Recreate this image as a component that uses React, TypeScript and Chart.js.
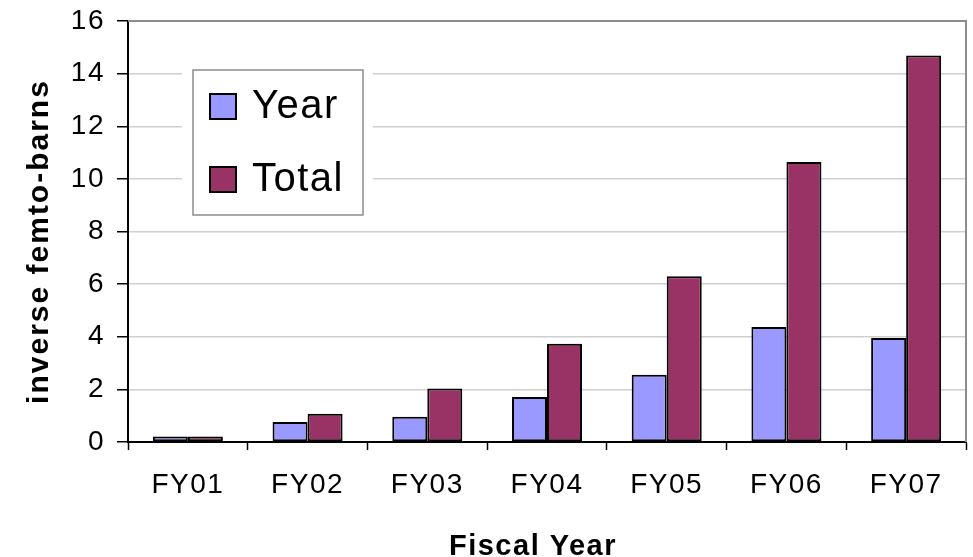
import React, { useEffect, useRef } from "react";
import { Chart, registerables } from "chart.js";

Chart.register(...registerables);

const categories = ["FY01", "FY02", "FY03", "FY04", "FY05", "FY06", "FY07"];
const yearValues = [0.21, 0.76, 0.96, 1.71, 2.56, 4.37, 3.95];
const totalValues = [0.21, 1.07, 2.03, 3.73, 6.3, 10.64, 14.69];
const yMin = 0;
const yMax = 16;
const yStep = 2;
const xTitle = "Fiscal Year";
const yTitle = "inverse femto-barns";

const FONT = "'Liberation Sans', Arial, sans-serif";
const SPACING = "1.5px";

// Excel-style plot frame, axis titles and an inset legend box.
const decorPlugin = {
  id: "decor",
  beforeLayout(chart: any) {
    chart.ctx.letterSpacing = SPACING;
  },
  beforeDraw(chart: any) {
    const ctx = chart.ctx;
    ctx.letterSpacing = SPACING;
    ctx.save();
    ctx.fillStyle = "#ffffff";
    ctx.fillRect(0, 0, chart.width, chart.height);
    ctx.restore();
  },
  afterDraw(chart: any) {
    const ctx = chart.ctx;
    const a = chart.chartArea;
    ctx.save();
    ctx.letterSpacing = SPACING;

    // top and right edges of the plot area
    ctx.strokeStyle = "#8c8c8c";
    ctx.lineWidth = 2;
    ctx.beginPath();
    ctx.moveTo(a.left, a.top);
    ctx.lineTo(a.right, a.top);
    ctx.lineTo(a.right, a.bottom);
    ctx.stroke();

    // legend box
    const lx = a.left + 65;
    const ly = a.top + 49;
    const lw = 170;
    const lh = 145;
    ctx.fillStyle = "#ffffff";
    ctx.fillRect(lx - 11, ly - 6, lw + 21, lh + 12);
    ctx.strokeStyle = "#8c8c8c";
    ctx.lineWidth = 1.5;
    ctx.strokeRect(lx, ly, lw, lh);

    ctx.font = `40px ${FONT}`;
    ctx.textBaseline = "middle";
    ctx.textAlign = "left";
    const rows = [ly + 36, ly + 109];
    chart.data.datasets.forEach((ds: any, i: number) => {
      const cy = rows[i];
      ctx.fillStyle = ds.backgroundColor;
      ctx.fillRect(lx + 17, cy - 12, 26, 25);
      ctx.strokeStyle = "#000000";
      ctx.lineWidth = 2;
      ctx.strokeRect(lx + 17, cy - 12, 26, 25);
      ctx.fillStyle = "#000000";
      ctx.fillText(ds.label, lx + 59, cy + 1);
    });

    // axis titles
    ctx.font = `bold 29px ${FONT}`;
    ctx.fillStyle = "#000000";
    ctx.textAlign = "center";
    ctx.textBaseline = "alphabetic";
    ctx.fillText(xTitle, (a.left + a.right) / 2 - 14, chart.height - 2);

    ctx.letterSpacing = "2px";
    ctx.font = `bold 30px ${FONT}`;
    ctx.translate(48, (a.top + a.bottom) / 2 + 10);
    ctx.rotate(-Math.PI / 2);
    ctx.fillText(yTitle, 0, 0);
    ctx.restore();
  },
};

export default function App() {
  const canvasRef = useRef<HTMLCanvasElement | null>(null);

  useEffect(() => {
    const canvas = canvasRef.current;
    if (!canvas) return;
    const chart = new Chart(canvas, {
      type: "bar",
      data: {
        labels: categories,
        datasets: [
          {
            label: "Year",
            data: yearValues,
            backgroundColor: "#9999ff",
            borderColor: "#000000",
            borderWidth: 2,
            borderSkipped: false,
            categoryPercentage: 0.585,
            barPercentage: 1.0,
          },
          {
            label: "Total",
            data: totalValues,
            backgroundColor: "#993366",
            borderColor: "#000000",
            borderWidth: 2,
            borderSkipped: false,
            categoryPercentage: 0.585,
            barPercentage: 1.0,
          },
        ],
      },
      options: {
        animation: false,
        responsive: false,
        maintainAspectRatio: false,
        devicePixelRatio: 1,
        layout: { padding: { left: 0, top: 21, right: 7, bottom: 0 } },
        plugins: {
          legend: { display: false },
          tooltip: { enabled: false },
          title: { display: false },
        },
        scales: {
          x: {
            type: "category",
            offset: true,
            grid: {
              display: true,
              offset: true,
              drawOnChartArea: false,
              drawTicks: true,
              tickLength: 8,
              tickColor: "#000000",
              tickWidth: 1.5,
            },
            border: { display: true, color: "#000000", width: 2 },
            ticks: {
              color: "#000000",
              font: { family: FONT, size: 28 },
              padding: 18,
              maxRotation: 0,
              autoSkip: false,
            },
            afterFit(scale: any) {
              scale.height = 115;
              scale.paddingLeft = 0;
              scale.paddingRight = 0;
            },
          },
          y: {
            min: yMin,
            max: yMax,
            grid: {
              color: "#cfcfcf",
              lineWidth: 1.5,
              tickLength: 11,
              tickColor: "#000000",
              tickWidth: 1.5,
            },
            border: { display: true, color: "#000000", width: 2 },
            ticks: {
              stepSize: yStep,
              color: "#000000",
              font: { family: FONT, size: 28 },
              padding: 12,
            },
            afterFit(scale: any) {
              scale.width = 128;
              scale.paddingTop = 0;
              scale.paddingBottom = 0;
            },
          },
        },
      },
      plugins: [decorPlugin],
    });
    return () => chart.destroy();
  }, []);

  return (
    <div style={{ position: "absolute", left: 0, top: 0, width: 973, height: 557, background: "#fff" }}>
      <canvas ref={canvasRef} width={973} height={557} style={{ display: "block", width: 973, height: 557 }} />
    </div>
  );
}
